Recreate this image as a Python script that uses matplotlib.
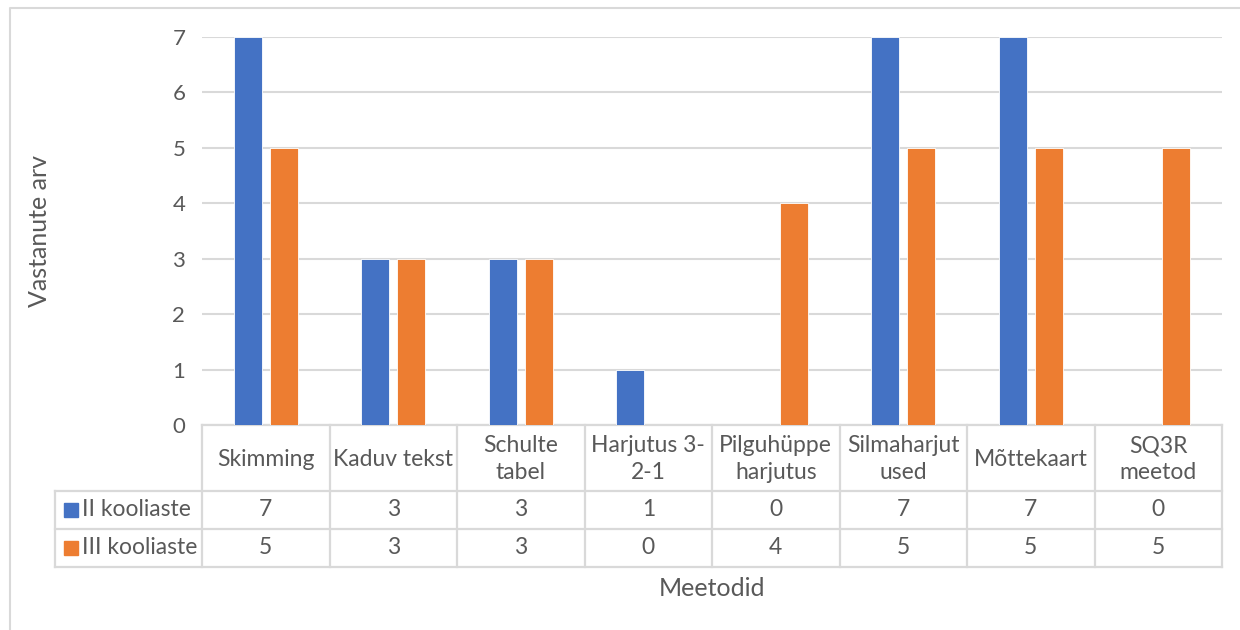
import numpy as np
import matplotlib.pyplot as plt
from matplotlib.patches import Rectangle

plt.rcParams['font.family'] = ['Lato', 'DejaVu Sans']

categories = ["Skimming", "Kaduv tekst", "Schulte\ntabel", "Harjutus 3-\n2-1",
              "Pilguhüppe\nharjutus", "Silmaharjut\nused", "Mõttekaart", "SQ3R\nmeetod"]
series_names = ["II kooliaste", "III kooliaste"]
ii_kooliaste = [7, 3, 3, 1, 0, 7, 7, 0]
iii_kooliaste = [5, 3, 3, 0, 4, 5, 5, 5]
y_ticks = [0, 1, 2, 3, 4, 5, 6, 7]

colors = ["#4472c4", "#ed7d31"]
grid_col = "#d9d9d9"
text_col = "#595959"

W, H = 1240, 630
fig = plt.figure(figsize=(W / 100, H / 100), dpi=100)

# plot area in pixels
left, right, top, bottom = 202, 1222, 37, 425
ax = fig.add_axes([left / W, 1 - bottom / H, (right - left) / W, (bottom - top) / H])
ax.set_zorder(2)
ax.patch.set_alpha(0)

n = len(categories)
x = np.arange(n)
bw = 0.22
gap = 0.062
ax.bar(x - (bw + gap) / 2, ii_kooliaste, bw, color=colors[0], edgecolor="white", linewidth=0.6, zorder=3)
ax.bar(x + (bw + gap) / 2, iii_kooliaste, bw, color=colors[1], edgecolor="white", linewidth=0.6, zorder=3)

ax.set_xlim(-0.5, n - 0.5)
ax.set_ylim(0, 7)
ax.set_yticks(y_ticks)
ax.yaxis.grid(True, color=grid_col, linewidth=1.5)
ax.set_axisbelow(True)
ax.set_xticks([])
ax.tick_params(axis="y", length=0, pad=12, labelsize=16, labelcolor=text_col)
for s in ax.spines.values():
    s.set_visible(False)
ax.set_ylabel("Vastanute arv", fontsize=18, color=text_col)
ax.yaxis.set_label_coords(-0.148, 0.5)

# overlay in pixel coordinates for frame and data table
ov = fig.add_axes([0, 0, 1, 1], zorder=1)
ov.set_xlim(0, W)
ov.set_ylim(H, 0)
ov.axis("off")

ov.plot([10, 10, W + 5], [H + 5, 8, 8], color=grid_col, linewidth=1.5)

col_w = (right - left) / n
row_head, row1, row2, row_end = bottom, 491, 529, 567
legend_left = 55
lw = 1.6
# horizontal lines
ov.plot([left, right], [row_head, row_head], color=grid_col, lw=lw)
for yy in (row1, row2, row_end):
    ov.plot([legend_left, right], [yy, yy], color=grid_col, lw=lw)
# vertical lines
for i in range(n + 1):
    xx = left + i * col_w
    ov.plot([xx, xx], [row_head, row_end], color=grid_col, lw=lw)
ov.plot([legend_left, legend_left], [row1, row_end], color=grid_col, lw=lw)

fs = 16.5
for i, cat in enumerate(categories):
    cx = left + (i + 0.5) * col_w
    ov.text(cx, (row_head + row1) / 2 + 1, cat, ha="center", va="center",
            fontsize=fs, color=text_col, linespacing=1.3)
    ov.text(cx, (row1 + row2) / 2, str(ii_kooliaste[i]), ha="center", va="center",
            fontsize=fs, color=text_col)
    ov.text(cx, (row2 + row_end) / 2, str(iii_kooliaste[i]), ha="center", va="center",
            fontsize=fs, color=text_col)

for j, (name, c) in enumerate(zip(series_names, colors)):
    yc = ((row1 + row2) / 2, (row2 + row_end) / 2)[j]
    ov.add_patch(Rectangle((64, yc - 7), 14, 14, color=c))
    ov.text(82, yc, name, ha="left", va="center", fontsize=fs, color=text_col)

ov.text((left + right) / 2, 589, "Meetodid", ha="center", va="center",
        fontsize=18, color=text_col)

fig.savefig("out.png", dpi=100)
